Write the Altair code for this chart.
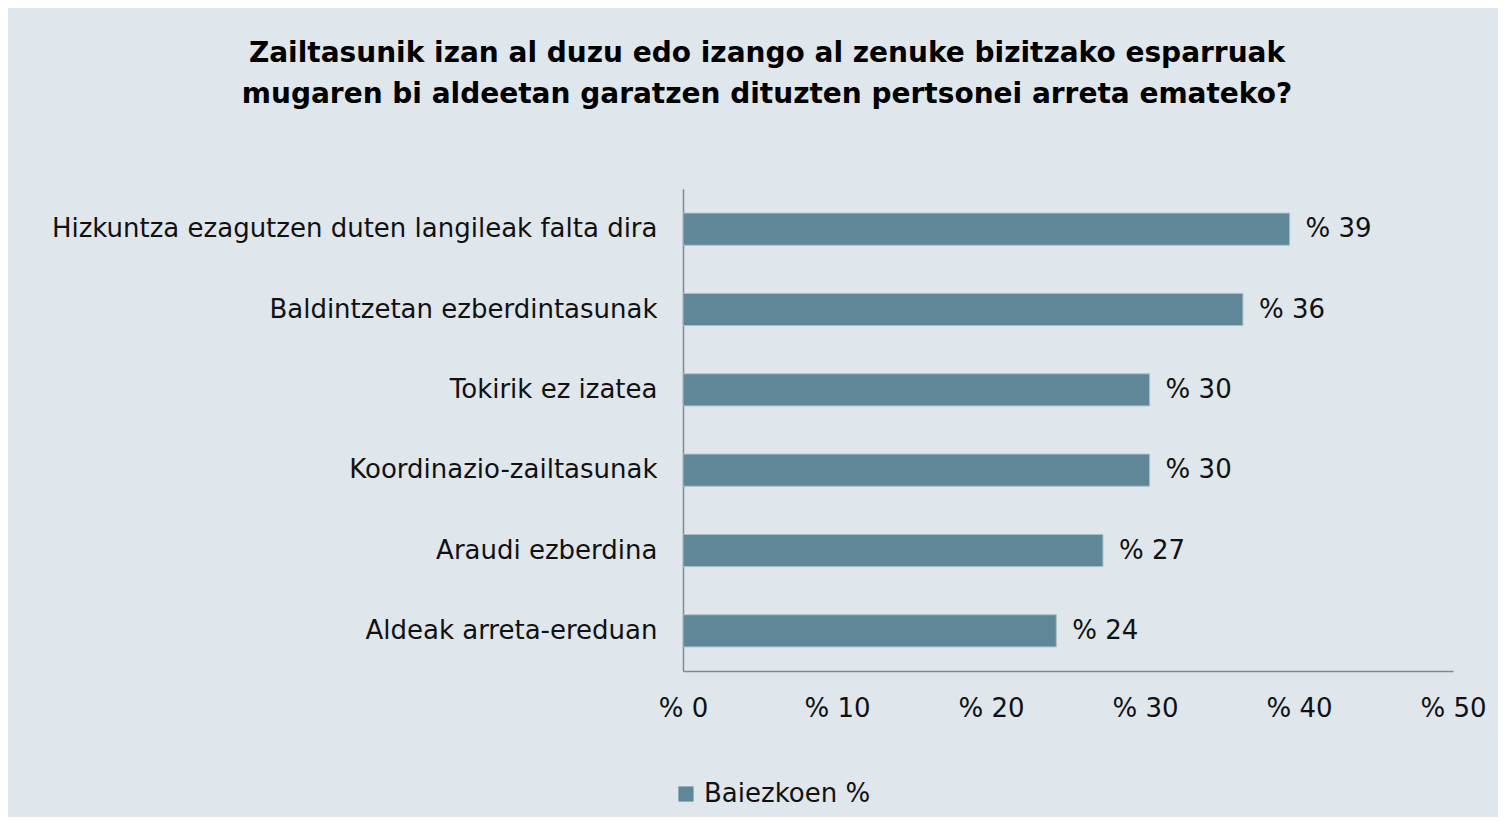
import altair as alt
import pandas as pd

categories = [
    "Hizkuntza ezagutzen duten langileak falta dira",
    "Baldintzetan ezberdintasunak",
    "Tokirik ez izatea",
    "Koordinazio-zailtasunak",
    "Araudi ezberdina",
    "Aldeak arreta-ereduan",
]
values = [39.39, 36.36, 30.30, 30.30, 27.27, 24.24]
series_name = "Baiezkoen %"
x_ticks = [0, 10, 20, 30, 40, 50]

df = pd.DataFrame({"cat": categories, "val": values, "series": [series_name] * len(values)})

FONT = "DejaVu Sans"
FS = 26
BAR = "#5f8797"

base = alt.Chart(df).encode(
    y=alt.Y(
        "cat:N",
        sort=categories,
        title=None,
        scale=alt.Scale(paddingInner=0.6, paddingOuter=0.3),
        axis=alt.Axis(
            ticks=False,
            domainColor="#888888",
            domainWidth=1.5,
            labelFont=FONT,
            labelFontSize=FS,
            labelColor="#111111",
            labelPadding=26,
            labelLimit=0,
        ),
    ),
    x=alt.X(
        "val:Q",
        title=None,
        scale=alt.Scale(domain=[0, 50], nice=False),
        axis=alt.Axis(
            values=x_ticks,
            ticks=False,
            grid=False,
            domainColor="#888888",
            domainWidth=1.5,
            labelFont=FONT,
            labelFontSize=FS,
            labelColor="#111111",
            labelPadding=24,
            labelFlush=False,
            labelExpr="'% ' + datum.value",
        ),
    ),
)

bars = base.mark_bar(stroke="#a9c0cb", strokeWidth=1).encode(
    color=alt.Color(
        "series:N",
        scale=alt.Scale(range=[BAR]),
        legend=alt.Legend(
            title=None,
            orient="none",
            legendX=-10,
            legendY=592,
            symbolType="square",
            symbolSize=230,
            symbolStrokeWidth=0,
            labelFont=FONT,
            labelFontSize=FS,
            labelColor="#111111",
            labelOffset=5,
            labelLimit=0,
        ),
    )
)

labels = base.mark_text(
    align="left", baseline="middle", dx=16, font=FONT, fontSize=FS, color="#111111"
).encode(text=alt.Text("lbl:N")).transform_calculate(lbl="'% ' + round(datum.val)")

chart = (
    (bars + labels)
    .properties(
        width=770,
        height=482,
        autosize=alt.AutoSizeParams(type="none"),
        padding={"left": 675, "top": 181, "right": 45, "bottom": 146},
        background="#dfe6ec",
        title=alt.TitleParams(
            text=[
                "Zailtasunik izan al duzu edo izango al zenuke bizitzako esparruak",
                "mugaren bi aldeetan garatzen dituzten pertsonei arreta emateko?",
            ],
            font=FONT,
            fontSize=28,
            fontWeight="bold",
            color="#000000",
            anchor="middle",
            frame="group",
            dx=-301,
            offset=80,
            lineHeight=41,
        ),
    )
    .configure_view(stroke=None)
)

chart.save("out.html", embed_options={"renderer": "svg", "actions": False})
